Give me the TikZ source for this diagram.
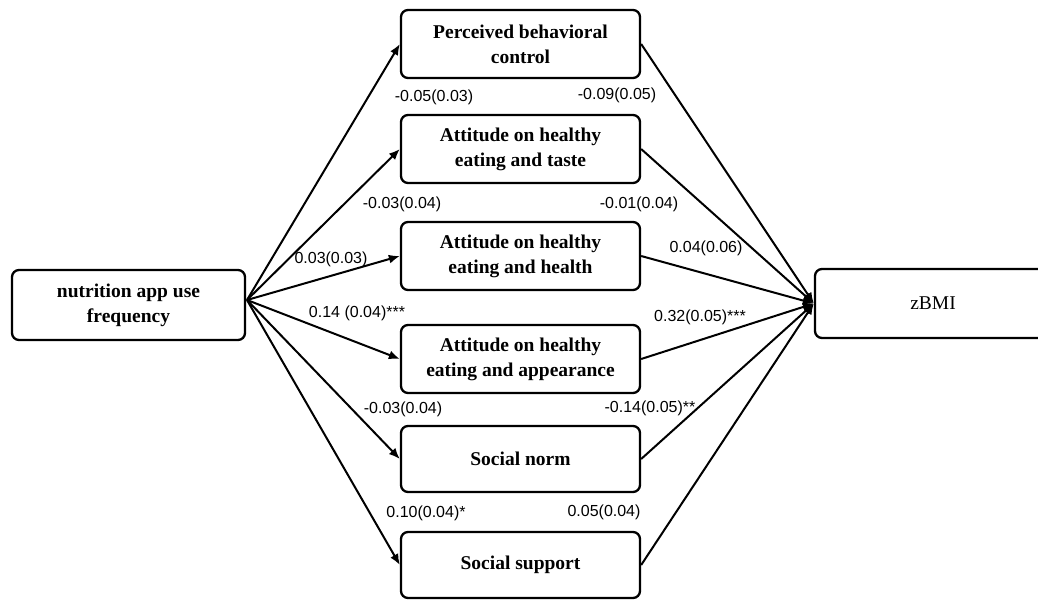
\documentclass[tikz,border=0pt]{standalone}
\usepackage{fontspec}
\setmainfont{Liberation Serif}
\newfontfamily\labelfont{Liberation Sans}
\usetikzlibrary{arrows.meta}
\begin{document}
\begin{tikzpicture}[x=1pt,y=-1pt,
  box/.style={draw, line width=2.3pt, rounded corners=7pt, minimum height=68pt,
    inner sep=0pt, align=center, font=\fontsize{19.5}{25}\selectfont\bfseries},
  midbox/.style={box, minimum width=239pt},
  effect/.style={line width=2pt, -{Latex[length=11pt,width=9pt]}},
  coef/.style={font=\labelfont\fontsize{16}{18}\selectfont, inner sep=0pt}
]
\useasboundingbox (0,0) rectangle (1038,600);
\clip (0,0) rectangle (1038,600);

% predictor and outcome
\node[box, minimum width=233pt, minimum height=70pt] (src) at (128.5,305) {nutrition app use\\frequency};
\node[box, minimum width=236pt, minimum height=69pt, font=\fontsize{19.5}{25}\selectfont] (out) at (933,303.5) {zBMI};

% mediators
\node[midbox] (m1) at (520.5,44)  {Perceived behavioral\\control};
\node[midbox] (m2) at (520.5,149) {Attitude on healthy\\eating and taste};
\node[midbox] (m3) at (520.5,256) {Attitude on healthy\\eating and health};
\node[midbox] (m4) at (520.5,359) {Attitude on healthy\\eating and appearance};
\node[midbox, minimum height=66pt] (m5) at (520.5,459) {Social norm};
\node[midbox, minimum height=66pt] (m6) at (520.5,565) {Social support};

% paths from predictor to mediators
\coordinate (s) at (247,300);
\foreach \m in {m1,m2,m3,m4,m5,m6}
  \draw[effect] (s) -- (\m.west);

% paths from mediators to outcome
\foreach \m in {m1,m2,m3,m4,m5,m6}
  \draw[effect] (\m.east) -- (out.west);

% path coefficients (standard errors)
\node[coef] (a1) at (434,97)  {-0.05(0.03)};
\node[coef] (b1) at (617,95)  {-0.09(0.05)};
\node[coef] (a2) at (402,204) {-0.03(0.04)};
\node[coef] (b2) at (639,204) {-0.01(0.04)};
\node[coef] (a3) at (331,259) {0.03(0.03)};
\node[coef] (b3) at (706,248) {0.04(0.06)};
\node[coef] (a4) at (357,313) {0.14 (0.04)***};
\node[coef] (b4) at (700,317) {0.32(0.05)***};
\node[coef] (a5) at (403,409) {-0.03(0.04)};
\node[coef] (b5) at (650,408) {-0.14(0.05)**};
\node[coef] (a6) at (426,513) {0.10(0.04)*};
\node[coef] (b6) at (604,512) {0.05(0.04)};
\end{tikzpicture}
\end{document}
